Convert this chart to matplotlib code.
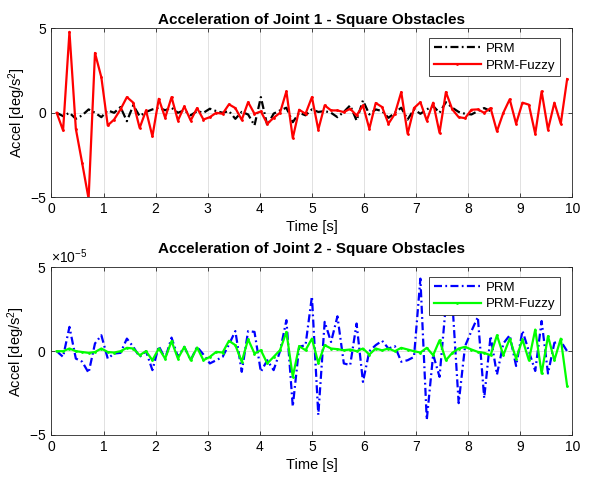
import numpy as np
import matplotlib
matplotlib.use("Agg")
import matplotlib.pyplot as plt
from matplotlib.ticker import FixedLocator

plt.rcParams["font.family"] = ["Liberation Sans", "DejaVu Sans"]
plt.rcParams["mathtext.fontset"] = "custom"
plt.rcParams["mathtext.rm"] = "Liberation Sans"
plt.rcParams["mathtext.it"] = "Liberation Sans:italic"

# sample grid shared by all series
T0, DT = 0.1, 0.1225

# joint 1 acceleration [deg/s^2]
j1_prm = [0, -0.2, 0.0, -0.36, -0.15, 0.2, 0.0, -0.26, 0.14, 0.0,
          0.34, -0.5, 0.44, -0.2, 0.05, 0.2, 0.3, 0.15, 0.3, 0.0,
          0.15, -0.15, 0.1, 0.0, 0.24, 0.1, 0.0, 0.1, -0.36, 0.05,
          -0.1, -0.75, 0.93, -0.75, -0.05, 0.14, 0.3, -0.56, 0.0, -0.15,
          0.2, 0.05, 0.1, 0.0, -0.26, 0.05, 0.44, -0.46, 0.73, -0.1,
          0.2, 0.1, -0.3, 0.0, 0.3, -0.4, 0.2, -0.06, 0.2, 0.4,
          0.0, 0.63, 0.3, 0.05, -0.06, -0.1, 0.1, 0.28, 0.1]
j1_fuzzy = [0, -1.05, 4.8, -0.95, -3.0, -5.1, 3.55, 2.1, -0.75, -0.4,
            0.2, 0.93, 0.6, -0.9, 0.14, -1.4, 0.83, -0.3, 0.93, -0.46,
            0.38, -0.46, 0.28, -0.4, -0.26, 0.0, -0.06, 0.5, 0.28, -0.42,
            0.63, -0.06, 0.08, -0.65, -0.3, 0.0, 1.27, -1.5, 0.18, -0.06,
            0.93, -1.0, 0.44, 0.14, 0.14, 0.04, 0.24, -0.16, 0.44, -0.95,
            0.58, 0.34, -0.65, -0.06, 1.23, -1.25, 0.28, 0.63, -0.46, 0.6,
            -1.19, 1.23, 0.2, -0.26, -0.32, 0.18, 0.2, 0.0, 0.28, -1.1,
            0.0, 0.8, -0.65, 0.6, 0.48, -1.25, 1.27, -1.0, 0.6, -0.65, 2.0]

# joint 2 acceleration [1e-5 deg/s^2]
J2_SCALE = 1e-5
j2_prm = [0, -0.34, 1.45, -0.44, -0.63, -1.29, 0.46, 0.95, -0.44, -0.14,
          -0.1, 0.75, 0.26, -0.34, 0.0, -1.13, 0.3, -0.44, 0.81, -0.34,
          0.26, -0.54, 0.26, -0.2, -0.73, -0.54, -0.34, 0.4, 1.2, -1.23,
          1.2, 1.15, -1.23, -0.54, -1.13, 0.0, 1.85, -3.3, 0.26, 0.36,
          3.27, -3.8, 1.75, 0.55, 2.08, -0.73, -0.83, 1.65, -1.83, 0.0,
          0.36, 0.62, 0.16, 0.3, -0.63, -0.54, -0.34, 4.33, -4.1, -0.2,
          -1.53, 2.8, 3.0, -3.1, 0.3, 1.2, 2.04, -2.8, 0.9, -1.4,
          0.46, 0.95, -0.88, 1.22, 0.0, -1.18, 1.8, -1.33, 0.5, 0.6, 0.0]
j2_fuzzy = [0, 0.0, 0.16, 0.0, -0.05, -0.1, -0.05, 0.16, -0.05, -0.08,
            0.0, 0.2, 0.16, -0.24, 0.0, -0.54, 0.16, -0.44, 0.6, -0.44,
            0.26, -0.54, 0.22, -0.54, -0.34, -0.04, -0.08, 0.62, 0.36, -0.63,
            0.71, -0.14, 0.06, -0.73, -0.34, 0.06, 1.15, -1.53, 0.3, 0.06,
            0.75, -0.7, 0.36, 0.16, 0.12, 0.06, 0.1, 0.0, 0.16, -0.2,
            0.16, 0.05, 0.16, 0.0, 0.2, 0.1, 0.0, -0.08, 0.2, -0.24,
            0.65, -0.54, -0.1, 0.16, 0.26, 0.1, -0.04, -0.1, -0.24, 0.95,
            -0.24, 0.75, -0.44, 0.7, -0.54, 1.29, -1.33, 0.9, -0.54, 0.75, -2.08]

DASHDOT = (0, (3.6, 1.5, 0.8, 1.5))


def time_axis(n):
    return T0 + DT * np.arange(n)


def style_axes(ax, title, title_pad):
    ax.set_xlim(0, 10)
    ax.set_xticks(np.arange(0, 11, 1))
    ax.grid(True, color="#dcdcdc", lw=0.6)
    ax.set_axisbelow(True)
    ax.tick_params(direction="in", top=True, right=True, length=3,
                   labelsize=10, color="#262626", width=0.6)
    for s in ax.spines.values():
        s.set_color("#262626")
        s.set_linewidth(0.6)
    ax.set_title(title, fontsize=11, fontweight="bold", pad=title_pad)
    ax.set_xlabel("Time [s]", fontsize=10.5, labelpad=3)
    ax.set_ylabel("Accel [deg/s$^2$]", fontsize=10.5, labelpad=2)


fig = plt.figure(figsize=(5.98, 4.83), dpi=100)
ax1 = fig.add_axes([0.0861, 0.592, 0.871, 0.349])
ax2 = fig.add_axes([0.0861, 0.0994, 0.871, 0.347])

ax1.plot(time_axis(len(j1_prm)), j1_prm, color="k", ls=DASHDOT, lw=1.6, label="PRM")
ax1.plot(time_axis(len(j1_fuzzy)), j1_fuzzy, color="r", ls="-", lw=1.6,
         marker=".", markersize=2, label="PRM-Fuzzy")
ax1.set_ylim(-5, 5)
ax1.set_yticks([-5, 0, 5])
style_axes(ax1, "Acceleration of Joint 1 - Square Obstacles", 3)

ax2.plot(time_axis(len(j2_prm)), np.array(j2_prm) * J2_SCALE, color="b", ls=DASHDOT,
         lw=1.6, label="PRM")
ax2.plot(time_axis(len(j2_fuzzy)), np.array(j2_fuzzy) * J2_SCALE, color="#00ff00",
         ls="-", lw=1.6, marker=".", markersize=2, label="PRM-Fuzzy")
ax2.set_ylim(-5e-5, 5e-5)
ax2.yaxis.set_major_locator(FixedLocator([-5e-5, 0, 5e-5]))
ax2.ticklabel_format(axis="y", style="sci", scilimits=(0, 0), useMathText=True)
ax2.yaxis.get_offset_text().set_fontsize(10)
style_axes(ax2, "Acceleration of Joint 2 - Square Obstacles", 10)

for ax in (ax1, ax2):
    leg = ax.legend(loc="upper right", fontsize=9.5, fancybox=False, framealpha=1,
                    edgecolor="#262626", handlelength=3.6, borderpad=0.35,
                    labelspacing=0.35, handletextpad=0.35, borderaxespad=0,
                    bbox_to_anchor=(0.976, 0.944))
    leg.get_frame().set_linewidth(0.6)

fig.savefig("out.png", dpi=100, facecolor="white")
